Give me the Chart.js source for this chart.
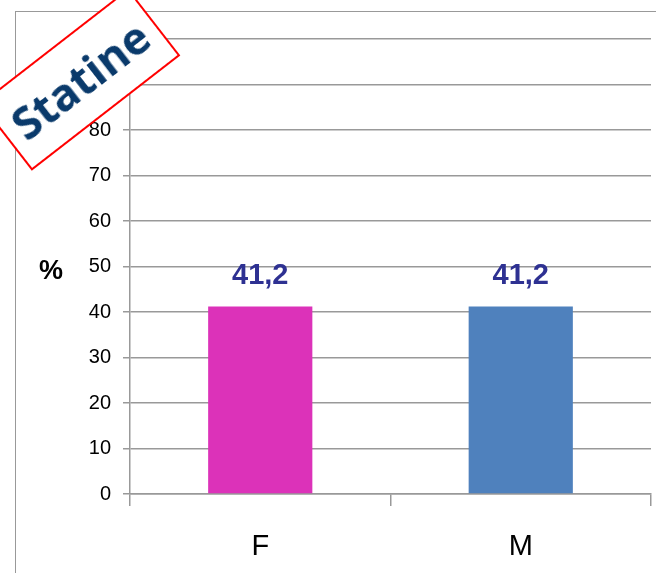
<!DOCTYPE html>
<html>
<head>
<meta charset="utf-8">
<script src="https://cdn.jsdelivr.net/npm/chart.js@4"></script>
<style>
  html, body { margin:0; padding:0; background:#fff; }
  #wrap { position:relative; width:656px; height:573px; overflow:hidden; }
  #frame { position:absolute; left:15px; top:11px; width:700px; height:600px;
           border-left:1.5px solid #999; border-top:1.5px solid #999; }
  #chart { position:absolute; left:0; top:0; }
  #badge { position:absolute; left:-14px; top:37px; width:188px; height:85px; box-sizing:border-box;
           border:2px solid #ff0000; background:#fff; transform:rotate(-37.8deg);
           font-family:'Open Sans', sans-serif; font-weight:700; font-size:45px;
           color:#0a3a6b; text-align:center; line-height:81px; }
</style>
</head>
<body>
<div id="wrap">
  <div id="frame"></div>
  <canvas id="chart" width="656" height="573"></canvas>
  <div id="badge">Statine</div>
</div>
<script>
const categories = ['F', 'M'];
const values     = [41.2, 41.2];
const barColors  = ['#dc32b9', '#4f81bd'];
const yTicks     = [0, 10, 20, 30, 40, 50, 60, 70, 80, 90, 100];
const axisTitle  = '%';

const fmtVal = v => String(v).replace('.', ',');

// value labels above bars + the "%" title beside the axis
const labelsPlugin = {
  id: 'labels',
  afterDatasetsDraw(chart) {
    const ctx  = chart.ctx;
    const meta = chart.getDatasetMeta(0);
    ctx.save();
    ctx.fillStyle    = '#2e3192';
    ctx.font         = 'bold 29px "Liberation Sans", Arial, sans-serif';
    ctx.textAlign    = 'center';
    ctx.textBaseline = 'bottom';
    meta.data.forEach((bar, i) => {
      ctx.fillText(fmtVal(values[i]), bar.x, bar.y - 16);
    });
    const y = chart.scales.y;
    ctx.fillStyle    = '#000';
    ctx.font         = 'bold 27px "Liberation Sans", Arial, sans-serif';
    ctx.textBaseline = 'middle';
    ctx.fillText(axisTitle, 51, y.getPixelForValue(49));
    ctx.restore();
  }
};

new Chart(document.getElementById('chart'), {
  type: 'bar',
  data: {
    labels: categories,
    datasets: [{
      data: values,
      backgroundColor: barColors,
      borderWidth: 0,
      categoryPercentage: 1,
      barPercentage: 0.4,
    }],
  },
  options: {
    responsive: false,
    animation: false,
    layout: { padding: { top: 39, right: 5, left: 0, bottom: 0 } },
    plugins: { legend: { display:false }, tooltip: { enabled:false } },
    scales: {
      x: {
        grid: { drawOnChartArea:false, drawTicks:true, tickLength:12, color:'#999', lineWidth:1.5 },
        border: { color:'#999', width:1.5 },
        ticks: { color:'#000', padding:24, font:{ family:'"Liberation Sans", Arial, sans-serif', size:29 } },
        afterFit: s => { s.height = 79; s.paddingLeft = 0; s.paddingRight = 0; },
      },
      y: {
        min: 0, max: 100,
        afterBuildTicks: s => { s.ticks = yTicks.map(v => ({ value:v })); },
        grid: { color:'#999', lineWidth:1.5, tickLength:7 },
        border: { color:'#999', width:1.5 },
        ticks: { color:'#000', padding:12, font:{ family:'"Liberation Sans", Arial, sans-serif', size:20 } },
        afterFit: s => { s.width = 130; },
      },
    },
  },
  plugins: [labelsPlugin],
});
</script>
</body>
</html>
